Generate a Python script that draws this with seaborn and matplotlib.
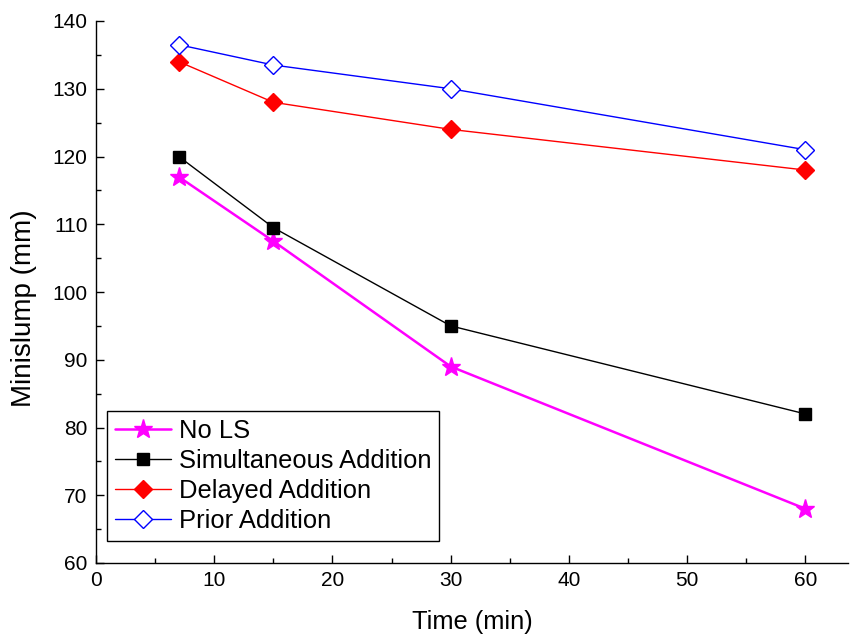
import matplotlib
matplotlib.use("Agg")
import matplotlib.pyplot as plt
from matplotlib.ticker import MultipleLocator
import pandas as pd
import seaborn as sns

# Minislump measurements over time for each lignosulfonate addition mode
times = [7, 15, 30, 60]
series_names = ["No LS", "Simultaneous Addition", "Delayed Addition", "Prior Addition"]
no_ls = [117, 107.5, 89, 68]
simultaneous = [120, 109.5, 95, 82]
delayed = [134, 128, 124, 118]
prior = [136.5, 133.5, 130, 121]

sns.set_theme(style="ticks")
plt.rcParams["font.family"] = ["Liberation Sans", "DejaVu Sans"]
plt.rcParams["text.color"] = "black"
plt.rcParams["axes.labelcolor"] = "black"

frames = []
for name, vals in zip(series_names, [no_ls, simultaneous, delayed, prior]):
    frames.append(pd.DataFrame({"Time": times, "Minislump": vals, "Series": name}))
df = pd.concat(frames, ignore_index=True)

styles = {
    "No LS": dict(color="#ff00ff", marker="*", ms=14, mfc="#ff00ff", mec="#ff00ff", lw=1.8),
    "Simultaneous Addition": dict(color="black", marker="s", ms=8.5, mfc="black", mec="black", lw=1.0),
    "Delayed Addition": dict(color="#ff0000", marker="D", ms=9, mfc="#ff0000", mec="#ff0000", lw=1.0),
    "Prior Addition": dict(color="#0000ff", marker="D", ms=9, mfc="white", mec="#0000ff", lw=1.0),
}

fig = plt.figure(figsize=(8.53, 6.37), dpi=100)
ax = fig.add_axes([96 / 853, 74 / 637, 752 / 853, 542 / 637])

for name in series_names:
    st = styles[name]
    sns.lineplot(
        data=df[df["Series"] == name], x="Time", y="Minislump", ax=ax,
        color=st["color"], linewidth=st["lw"], marker=st["marker"],
        markersize=st["ms"], markerfacecolor=st["mfc"], markeredgecolor=st["mec"],
        markeredgewidth=1.0, label=name, errorbar=None,
    )

ax.set_xlim(0, 63.6)
ax.set_ylim(60, 140)
ax.xaxis.set_major_locator(MultipleLocator(10))
ax.xaxis.set_minor_locator(MultipleLocator(5))
ax.yaxis.set_major_locator(MultipleLocator(10))
ax.yaxis.set_minor_locator(MultipleLocator(5))
ax.tick_params(which="major", direction="in", length=6, width=1, labelsize=15,
               colors="black", pad=6)
ax.tick_params(which="minor", direction="in", length=3.5, width=1, colors="black")
for side in ["top", "right"]:
    ax.spines[side].set_visible(False)
for side in ["left", "bottom"]:
    ax.spines[side].set_color("black")
    ax.spines[side].set_linewidth(1.0)

ax.set_xlabel("Time (min)", fontsize=18.3, labelpad=14)
ax.set_ylabel("Minislump (mm)", fontsize=20)
ax.yaxis.set_label_coords(-0.079, 0.47)

leg = ax.legend(
    loc="lower left", bbox_to_anchor=(11 / 752, 22 / 542), fontsize=18.4,
    frameon=True, fancybox=False, edgecolor="black", framealpha=1,
    handlelength=2.2, handletextpad=0.3, labelspacing=0.24, borderpad=0.3,
    borderaxespad=0,
)
leg.get_frame().set_linewidth(1.0)

fig.savefig("out.png", dpi=100)
